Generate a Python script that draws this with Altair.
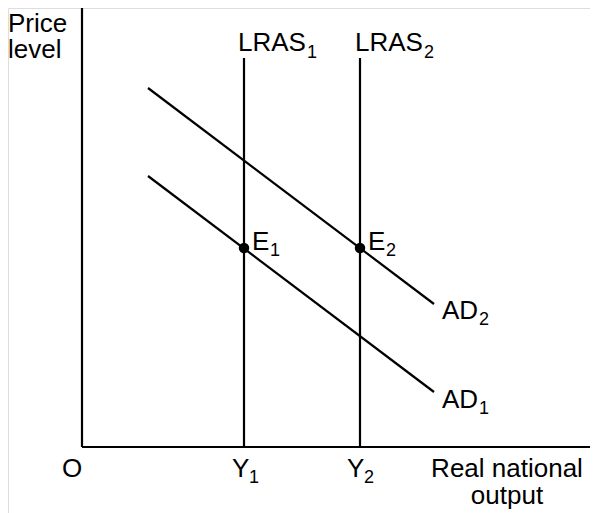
import altair as alt
import pandas as pd

# Data (units: output on x, price level on y; origin at O)
ad_names = ["AD1", "AD1", "AD2", "AD2"]
ad_x = [66, 352, 66, 352]
ad_p = [271, 55, 359, 143]

lras_names = ["LRAS1", "LRAS2"]
lras_x = [162, 278]
lras_top = [389, 389]

eq_names = ["E1", "E2"]
eq_x = [162, 278]
eq_p = [199, 199]

axis_x_end = 508
axis_y_top = 439

# Labels: text, x, y, size
label_text = ["Price", "level", "LRAS", "1", "LRAS", "2", "E", "1", "E", "2",
              "AD", "2", "AD", "1", "O", "Y", "1", "Y", "2"]
label_x = [-74, -74, 156, 225, 273, 342, 170, 188, 286, 304,
           360, 397, 360, 397, -20, 150, 167, 265, 282]
label_y = [415, 389, 396, 389, 396, 389, 197, 191, 197, 191,
           128, 122, 39, 33, -30, -30, -36, -30, -36]
label_size = [26, 26, 26, 18, 26, 18, 26, 18, 26, 18,
              26, 18, 26, 18, 26, 26, 18, 26, 18]

center_text = ["Real national", "output"]
center_x = [425, 425]
center_y = [-30, -57]

FONT = "Liberation Sans"
xs = alt.Scale(domain=[-74, 508], nice=False, zero=False)
ys = alt.Scale(domain=[-66, 439], nice=False, zero=False)

ad_df = pd.DataFrame({"curve": ad_names, "x": ad_x, "p": ad_p})
lras_df = pd.DataFrame({"name": lras_names, "x": lras_x, "top": lras_top, "bottom": [0, 0]})
eq_df = pd.DataFrame({"name": eq_names, "x": eq_x, "p": eq_p})
axes_df = pd.DataFrame({"x": [0, 0], "x2": [0, axis_x_end], "y": [0, 0], "y2": [axis_y_top, 0]})
lab_df = pd.DataFrame({"t": label_text, "x": label_x, "y": label_y, "s": label_size})
cen_df = pd.DataFrame({"t": center_text, "x": center_x, "y": center_y})

axes = alt.Chart(axes_df).mark_rule(color="black", strokeWidth=2.2).encode(
    x=alt.X("x:Q", scale=xs, axis=None), x2="x2:Q",
    y=alt.Y("y:Q", scale=ys, axis=None), y2="y2:Q")

lras = alt.Chart(lras_df).mark_rule(color="black", strokeWidth=2.2).encode(
    x=alt.X("x:Q", scale=xs, axis=None),
    y=alt.Y("bottom:Q", scale=ys, axis=None), y2="top:Q")

ad = alt.Chart(ad_df).mark_line(color="black", strokeWidth=2.2).encode(
    x=alt.X("x:Q", scale=xs, axis=None),
    y=alt.Y("p:Q", scale=ys, axis=None),
    detail="curve:N")

pts = alt.Chart(eq_df).mark_circle(color="black", opacity=1, size=110).encode(
    x=alt.X("x:Q", scale=xs, axis=None),
    y=alt.Y("p:Q", scale=ys, axis=None))

labels = alt.Chart(lab_df).mark_text(align="left", baseline="alphabetic", font=FONT, color="black").encode(
    x=alt.X("x:Q", scale=xs, axis=None),
    y=alt.Y("y:Q", scale=ys, axis=None),
    text="t:N",
    size=alt.Size("s:Q", scale=None, legend=None))

centered = alt.Chart(cen_df).mark_text(align="center", baseline="alphabetic", font=FONT, fontSize=26, color="black").encode(
    x=alt.X("x:Q", scale=xs, axis=None),
    y=alt.Y("y:Q", scale=ys, axis=None),
    text="t:N")

chart = alt.layer(axes, lras, ad, pts, labels, centered).properties(
    width=582, height=505, padding=0, autosize=alt.AutoSizeParams(type="none")
).configure_view(stroke=None).configure(background="white")

chart.save("out.html", embed_options={"renderer": "svg", "actions": False})
